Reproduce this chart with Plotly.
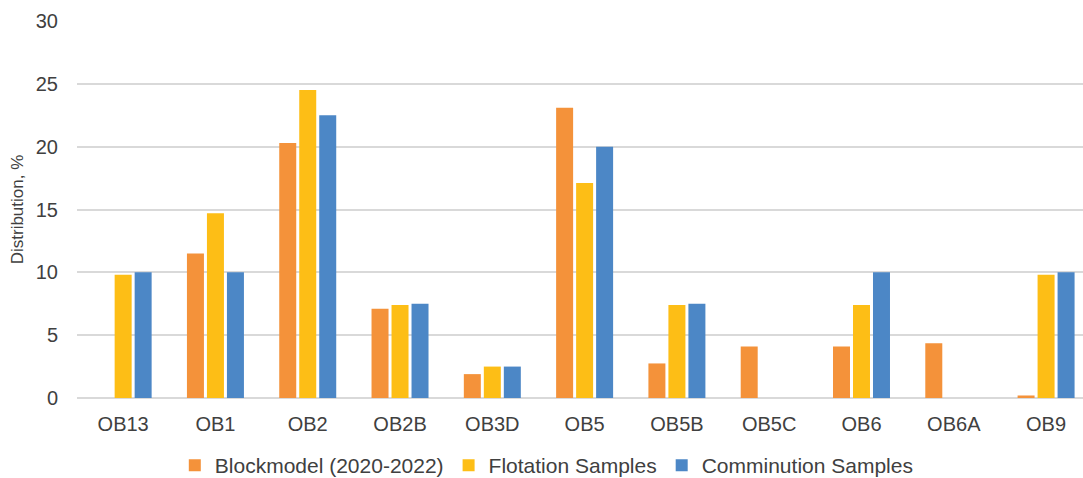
import plotly.graph_objects as go

categories = ["OB13", "OB1", "OB2", "OB2B", "OB3D", "OB5", "OB5B", "OB5C", "OB6", "OB6A", "OB9"]
blockmodel = [0, 11.5, 20.3, 7.1, 1.9, 23.1, 2.75, 4.1, 4.1, 4.35, 0.2]
flotation = [9.8, 14.7, 24.5, 7.4, 2.5, 17.1, 7.4, 0, 7.4, 0, 9.8]
comminution = [10, 10, 22.5, 7.5, 2.5, 20, 7.5, 0, 10, 0, 10]

series = [
    ("Blockmodel (2020-2022)", blockmodel, "#F4923A"),
    ("Flotation Samples", flotation, "#FDBE16"),
    ("Comminution Samples", comminution, "#4C87C6"),
]

fig = go.Figure()
for name, vals, color in series:
    fig.add_trace(go.Bar(x=categories, y=vals, name=name, marker=dict(color=color, line=dict(width=0))))

font = dict(family="Liberation Sans, Arial, sans-serif", color="#404040", size=20)
fig.update_layout(
    width=1083, height=478,
    margin=dict(l=77, r=0, t=21, b=80, autoexpand=False),
    paper_bgcolor="white", plot_bgcolor="white",
    barmode="group", bargap=0.35, bargroupgap=0.15,
    font=font,
    showlegend=True,
    legend=dict(orientation="h", x=0.467, xanchor="center", y=-0.125, yanchor="top",
                font=dict(size=21, color="#404040"), itemwidth=30, traceorder="normal"),
    xaxis=dict(showgrid=False, showline=False, ticks="", tickfont=dict(size=20),
               ticklabelstandoff=12, range=[-0.5, 10.4], automargin=False),
    yaxis=dict(range=[0, 30], dtick=5, showgrid=True, gridcolor="#D9D9D9", gridwidth=1.5,
               zeroline=True, zerolinecolor="#D9D9D9", zerolinewidth=1.5,
               ticks="", ticklabelstandoff=18, tickfont=dict(size=20), automargin=False,
               title=dict(text="Distribution, %", font=dict(size=17), standoff=7)),
)
fig.write_html("out.html", config={"displayModeBar": False},
               post_script="document.body.style.margin='0px';")
